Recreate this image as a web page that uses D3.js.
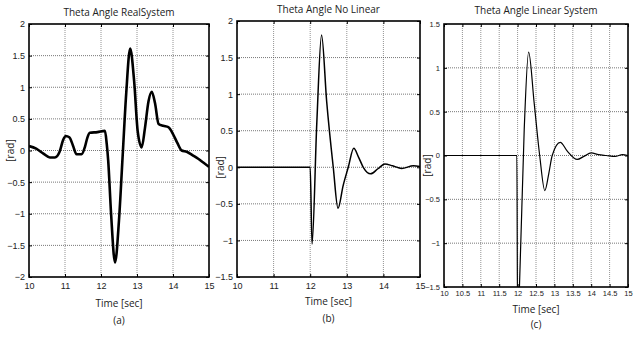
<!DOCTYPE html>
<html>
<head>
<meta charset="utf-8">
<script src="https://cdn.jsdelivr.net/npm/d3@7"></script>
<style>
  body { margin: 0; background: #fff; }
  svg text { font-family: "Liberation Sans Narrow", "Liberation Sans", Arial, sans-serif; fill: #222; }
  .title, .xlabel, .sub { font-family: "Open Sans", "Liberation Sans", sans-serif; }
</style>
</head>
<body>
<div id="chart"></div>
<script>
// ---- data ----
// (a) real system
const timeA  = [10, 10.2, 10.4, 10.58, 10.72, 10.85, 10.95, 11.02, 11.12, 11.22, 11.32, 11.46, 11.55, 11.62, 11.69, 11.9, 12.11, 12.16, 12.2, 12.28, 12.39, 12.5, 12.6, 12.7, 12.81, 12.92, 13.02, 13.13, 13.22, 13.32, 13.41, 13.5, 13.6, 13.73, 13.87, 14.0, 14.12, 14.24, 14.38, 14.56, 14.7, 14.84, 14.98, 15];
const thetaA = [0.07, 0.03, -0.05, -0.11, -0.11, -0.02, 0.17, 0.23, 0.21, 0.08, -0.06, -0.06, 0.05, 0.2, 0.28, 0.29, 0.31, 0.1, -0.16, -1.0, -1.77, -1.1, -0.1, 0.9, 1.61, 1.1, 0.3, 0.05, 0.35, 0.78, 0.93, 0.75, 0.42, 0.39, 0.37, 0.26, 0.12, 0.0, -0.02, -0.08, -0.13, -0.19, -0.25, -0.26];

// (b) non-linear model
const timeB  = [10, 11, 12.0, 12.05, 12.18, 12.31, 12.45, 12.63, 12.76, 12.9, 13.04, 13.19, 13.32, 13.45, 13.65, 13.85, 14.04, 14.25, 14.5, 14.82, 15];
const thetaB = [0, 0, 0, -1.05, 0.6, 1.81, 0.9, 0, -0.56, -0.25, 0, 0.26, 0.14, 0, -0.09, -0.02, 0.045, 0.02, -0.015, 0.02, 0.01];

// (c) linear model
const timeC  = [10, 11, 11.98, 12.0, 12.05, 12.18, 12.3, 12.45, 12.6, 12.74, 12.85, 12.94, 13.16, 13.35, 13.62, 13.8, 14.0, 14.2, 14.41, 14.65, 14.85, 15];
const thetaC = [0, 0, 0, -1.95, -1.5, 0.3, 1.18, 0.6, 0, -0.4, -0.2, 0, 0.15, 0.05, -0.045, -0.01, 0.03, 0.01, 0.0, -0.01, 0.01, 0.0];

// tick values
const ticksX   = [10, 11, 12, 13, 14, 15];
const ticksXc  = [10, 10.5, 11, 11.5, 12, 12.5, 13, 13.5, 14, 14.5, 15];
const ticksYa  = [-2, -1.5, -1, -0.5, 0, 0.5, 1, 1.5, 2];
const ticksYb  = [-1.5, -1, -0.5, 0, 0.5, 1, 1.5, 2];
const ticksYc  = [-1.5, -1, -0.5, 0, 0.5, 1, 1.5];

const titles = ["Theta Angle RealSystem", "Theta Angle  No Linear", "Theta Angle Linear System"];
const subs = ["(a)", "(b)", "(c)"];

// ---- layout per panel (pixel boxes) ----
const panels = [
  { t: timeA, v: thetaA, xt: ticksX,  yt: ticksYa, yd: [-2, 2],   box: { l: 29,  r: 209, top: 24, bot: 277 }, lw: 2.6, fs: 9, pad: 6, title: titles[0], sub: subs[0], ty: 16, xly: 307, suby: 324, yl: 10 },
  { t: timeB, v: thetaB, xt: ticksX,  yt: ticksYb, yd: [-1.5, 2], box: { l: 237, r: 420, top: 21, bot: 277 }, lw: 1.5, fs: 9, pad: 6, title: titles[1], sub: subs[1], ty: 13, xly: 305, suby: 322, yl: 220 },
  { t: timeC, v: thetaC, xt: ticksXc, yt: ticksYc, yd: [-1.5, 1.5], box: { l: 444, r: 628, top: 24, bot: 287 }, lw: 1.2, fs: 7.5, pad: 4, title: titles[2], sub: subs[2], ty: 14, xly: 313, suby: 328, yl: 427 }
];

const svg = d3.select("#chart").append("svg")
    .attr("width", 633)
    .attr("height", 338);

panels.forEach((p, i) => {
  const b = p.box;
  const x = d3.scaleLinear().domain([10, 15]).range([b.l, b.r]);
  const y = d3.scaleLinear().domain(p.yd).range([b.bot, b.top]);
  const g = svg.append("g");

  // grid
  g.selectAll(".gx").data(p.xt.slice(1, -1)).join("line")
      .attr("x1", d => x(d)).attr("x2", d => x(d))
      .attr("y1", b.top).attr("y2", b.bot)
      .attr("stroke", "#777").attr("stroke-width", 0.8).attr("stroke-dasharray", "1,1");
  g.selectAll(".gy").data(p.yt.slice(1, -1)).join("line")
      .attr("x1", b.l).attr("x2", b.r)
      .attr("y1", d => y(d)).attr("y2", d => y(d))
      .attr("stroke", "#555").attr("stroke-width", 0.8).attr("stroke-dasharray", "1,1");

  // clip for the curve
  svg.append("clipPath").attr("id", "clip" + i)
    .append("rect").attr("x", b.l).attr("y", b.top).attr("width", b.r - b.l).attr("height", b.bot - b.top);

  const line = d3.line()
      .x((d, k) => x(p.t[k]))
      .y(d => y(d))
      .curve(d3.curveMonotoneX);

  g.append("path")
      .attr("d", line(p.v))
      .attr("clip-path", `url(#clip${i})`)
      .attr("fill", "none")
      .attr("stroke", "#000")
      .attr("stroke-width", p.lw)
      .attr("stroke-linejoin", "round");

  // axes (ticks inward)
  g.append("g").attr("transform", `translate(0,${b.bot})`)
      .call(d3.axisBottom(x).tickValues(p.xt).tickSize(-3).tickPadding(p.pad).tickFormat(d3.format("")))
      .call(a => a.select(".domain").remove())
      .selectAll("text").style("font-size", p.fs + "px");
  g.append("g").attr("transform", `translate(${b.l},0)`)
      .call(d3.axisLeft(y).tickValues(p.yt).tickSize(-3).tickPadding(4).tickFormat(d3.format("")))
      .call(a => a.select(".domain").remove())
      .selectAll("text").style("font-size", p.fs + "px");
  g.append("g").attr("transform", `translate(0,${b.top})`)
      .call(d3.axisTop(x).tickValues(p.xt).tickSize(-3).tickFormat(""))
      .call(a => a.select(".domain").remove());
  g.append("g").attr("transform", `translate(${b.r},0)`)
      .call(d3.axisRight(y).tickValues(p.yt).tickSize(-3).tickFormat(""))
      .call(a => a.select(".domain").remove());

  g.append("rect")
      .attr("x", b.l).attr("y", b.top)
      .attr("width", b.r - b.l).attr("height", b.bot - b.top)
      .attr("fill", "none").attr("stroke", "#000").attr("stroke-width", 1.6);

  const cx = (b.l + b.r) / 2;
  g.append("text").attr("class", "title").attr("x", cx).attr("y", p.ty)
      .attr("text-anchor", "middle").style("font-size", "10px").text(p.title);
  g.append("text").attr("class", "xlabel").attr("x", cx).attr("y", p.xly)
      .attr("text-anchor", "middle").style("font-size", "10px").text("Time [sec]");
  g.append("text").attr("class", "sub").attr("x", cx).attr("y", p.suby)
      .attr("text-anchor", "middle").style("font-size", "10px").text(p.sub);
  g.append("text").attr("class", "xlabel")
      .attr("transform", `translate(${p.yl},${y(0) + (i === 2 ? 10 : 0)}) rotate(-90)`)
      .attr("text-anchor", "middle").attr("dy", "0.35em")
      .style("font-size", "10px").text("[rad]");
});
</script>
</body>
</html>
